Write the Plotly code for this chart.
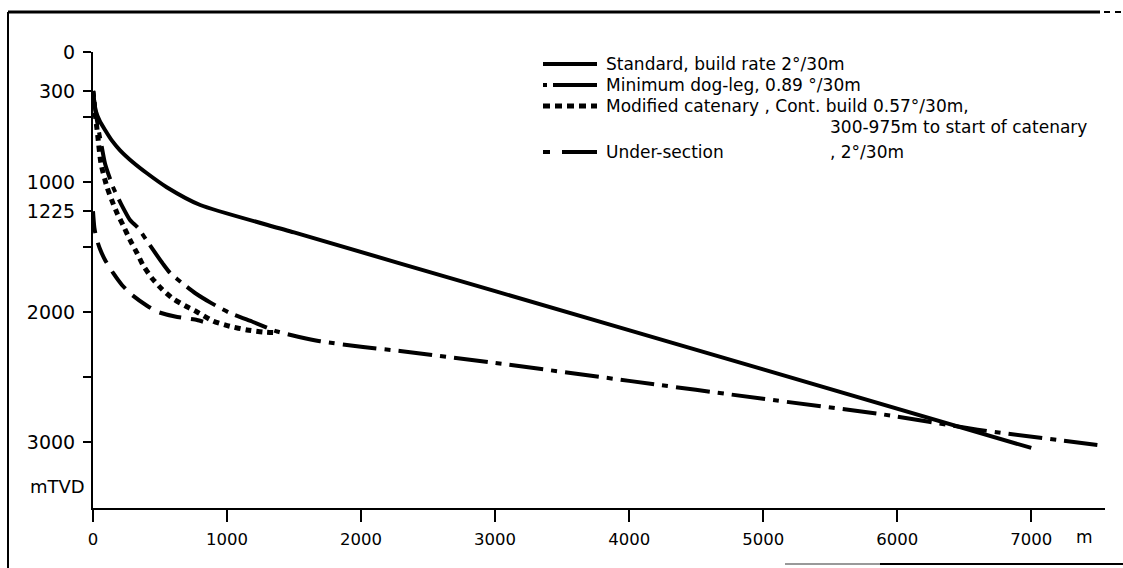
import plotly.graph_objects as go

# ---- data (departure m, TVD m) ----
std_x = [0, 20, 50, 90, 140, 200, 300, 400, 550, 800, 1500, 3000, 5000, 7000]
std_y = [300, 450, 530, 600, 680, 754, 850, 931, 1040, 1177, 1388, 1840, 2442, 3046]

mdl_x = [0, 15, 35, 60, 90, 150, 210, 276, 336, 420, 522, 575, 680, 761, 880, 1022, 1194, 1373, 1530, 1694, 2015, 2291, 3000, 4000, 5000, 5873, 6600, 7493]
mdl_y = [300, 430, 560, 700, 860, 1040, 1170, 1292, 1354, 1480, 1630, 1700, 1790, 1854, 1930, 2008, 2077, 2150, 2190, 2225, 2270, 2300, 2392, 2530, 2668, 2785, 2905, 3023]

cat_x = [0, 15, 35, 60, 104, 140, 179, 230, 276, 330, 373, 440, 515, 600, 701, 776, 896, 1020, 1149, 1269, 1373]
cat_y = [300, 460, 640, 860, 1038, 1140, 1238, 1345, 1446, 1550, 1640, 1740, 1825, 1900, 1960, 2000, 2070, 2110, 2138, 2154, 2160]

und_x = [0, 10, 25, 50, 90, 150, 216, 291, 400, 485, 612, 700, 776, 821]
und_y = [1225, 1350, 1430, 1510, 1600, 1700, 1792, 1869, 1950, 2000, 2035, 2050, 2062, 2075]

legend_text = [
    "Standard, build rate 2°/30m",
    "Minimum dog-leg, 0.89 °/30m",
    "Modified catenary , Cont. build 0.57°/30m,",
    "Under-section",
]
legend_text_2 = ["300-975m to start of catenary", ", 2°/30m"]

y_tickvals = [0, 300, 500, 1000, 1225, 1500, 2000, 2500, 3000]
y_ticktext = ["0", "300", "", "1000", "1225", "", "2000", "", "3000"]
x_tickvals = [0, 1000, 2000, 3000, 4000, 5000, 6000, 7000]
x_ticktext = ["0", "1000", "2000", "3000", "4000", "5000", "6000", "7000"]

FONT = "DejaVu Sans, Verdana, sans-serif"

# line styles
styles = [
    dict(color="black", width=4),
    dict(color="black", width=4, dash="34px,8px,6px,8px"),
    dict(color="black", width=5, dash="6px,5px"),
    dict(color="black", width=4, dash="22px,10px"),
]
sample_dash = [None, "4px,6px,44px", "7px,5px", "7px,12px,35px"]

fig = go.Figure()
for xs, ys, st in zip([std_x, mdl_x, cat_x, und_x], [std_y, mdl_y, cat_y, und_y], styles):
    fig.add_trace(go.Scatter(x=xs, y=ys, mode="lines", showlegend=False,
                             line=dict(shape="spline", smoothing=0.6, **st)))

# layout helpers (pixel -> paper)
L, R, T, B, W, H = 93, 18, 52, 60, 1123, 568
PW, PH = W - L - R, H - T - B
def px(xp):
    return (xp - L) / PW
def py(yp):
    return (H - B - yp) / PH

row_y = [64, 85, 106, 127, 152]
text_x0 = 604
text_x1 = 828
samp_x0, samp_x1 = 543, 597

annotations = []
shapes = []
legend_rows = [row_y[0], row_y[1], row_y[2], row_y[4]]
for i, (txt, yr) in enumerate(zip(legend_text, legend_rows)):
    annotations.append(dict(text=txt, xref="paper", yref="paper", x=px(text_x0), y=py(yr),
                            xanchor="left", yanchor="middle", showarrow=False,
                            font=dict(family=FONT, size=17, color="black")))
    ln = dict(color="black", width=styles[i]["width"])
    if sample_dash[i]:
        ln["dash"] = sample_dash[i]
    shapes.append(dict(type="line", xref="paper", yref="paper", x0=px(samp_x0), x1=px(samp_x1),
                       y0=py(yr), y1=py(yr), line=ln))
annotations.append(dict(text=legend_text_2[0], xref="paper", yref="paper", x=px(text_x1), y=py(row_y[3]),
                        xanchor="left", yanchor="middle", showarrow=False,
                        font=dict(family=FONT, size=17, color="black")))
annotations.append(dict(text=legend_text_2[1], xref="paper", yref="paper", x=px(text_x1), y=py(row_y[4]),
                        xanchor="left", yanchor="middle", showarrow=False,
                        font=dict(family=FONT, size=17, color="black")))

annotations.append(dict(text="mTVD", xref="paper", yref="y", x=0, y=3346, xanchor="right",
                        yanchor="middle", xshift=-6, showarrow=False,
                        font=dict(family=FONT, size=18, color="black")))
annotations.append(dict(text="m", xref="x", yref="paper", x=7400, y=py(537), xanchor="center",
                        yanchor="middle", showarrow=False,
                        font=dict(family=FONT, size=17, color="black")))

# page frame (left, top, part of bottom)
shapes += [
    dict(type="line", xref="paper", yref="paper", x0=px(8), x1=px(8), y0=py(568), y1=py(12),
         line=dict(color="black", width=2)),
    dict(type="line", xref="paper", yref="paper", x0=px(8), x1=px(1100), y0=py(12), y1=py(12),
         line=dict(color="black", width=3)),
    dict(type="line", xref="paper", yref="paper", x0=px(1104), x1=px(1123), y0=py(12), y1=py(12),
         line=dict(color="black", width=2, dash="6px,5px")),
    dict(type="line", xref="paper", yref="paper", x0=px(785), x1=px(880), y0=py(564), y1=py(564),
         line=dict(color="#999999", width=2)),
    dict(type="line", xref="paper", yref="paper", x0=px(880), x1=px(1123), y0=py(564), y1=py(564),
         line=dict(color="black", width=2)),
]

fig.update_layout(
    width=W, height=H,
    margin=dict(l=L, r=R, t=T, b=B),
    paper_bgcolor="white", plot_bgcolor="white",
    font=dict(family=FONT, size=17, color="black"),
    showlegend=False,
    xaxis=dict(range=[0, 7550], showgrid=False, zeroline=False,
               showline=True, linecolor="black", linewidth=2,
               ticks="outside", ticklen=12, tickwidth=2, tickcolor="black",
               tickvals=x_tickvals, ticktext=x_ticktext, ticklabelstandoff=3,
               tickfont=dict(family=FONT, size=16.5, color="black")),
    yaxis=dict(range=[3508, 0], showgrid=False, zeroline=False,
               showline=True, linecolor="black", linewidth=2,
               ticks="outside", ticklen=8, tickwidth=2, tickcolor="black",
               tickvals=y_tickvals, ticktext=y_ticktext, ticklabelstandoff=4,
               tickfont=dict(family=FONT, size=19, color="black")),
    annotations=annotations,
    shapes=shapes,
)

fig.write_html("out.html")
